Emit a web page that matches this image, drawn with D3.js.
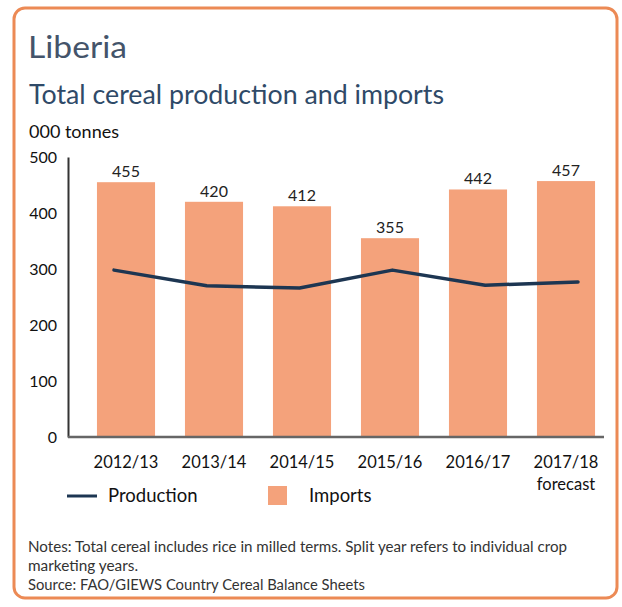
<!DOCTYPE html>
<html><head><meta charset="utf-8">
<script src="https://cdn.jsdelivr.net/npm/d3@7"></script>
<style>body{margin:0;background:#fff}svg{display:block;font-family:Lato,"Open Sans",sans-serif}</style>
</head><body><svg id="c" width="622" height="607"></svg>
<script>
const categories = ["2012/13","2013/14","2014/15","2015/16","2016/17","2017/18"];
const categorySub = ["","","","","","forecast"];
const imports = [455,420,412,355,442,457];
const production = [298,270,266,298,271,277];
const yTicks = [0,100,200,300,400,500];
const FONT = "Lato,'Open Sans',sans-serif";

const svg = d3.select("#c");
svg.append("rect").attr("x",14).attr("y",8).attr("width",603).attr("height",590)
  .attr("rx",11).attr("fill","#fff").attr("stroke","#ec8a55").attr("stroke-width",3);

function fitText(x, yy, size, color, txt, len) {
  const t = svg.append("text").attr("x",x).attr("y",yy).attr("font-size",size).attr("fill",color).text(txt);
  if (len) t.attr("textLength",len).attr("lengthAdjust","spacingAndGlyphs");
  return t;
}
fitText(28,58,31,"#44546a","Liberia",99);
fitText(29,104,26,"#2f4a68","Total cereal production and imports",415);
fitText(29,138,17,"#111","000 tonnes",90);

const y = d3.scaleLinear().domain([0,500]).range([437,157]);
const x = d3.scaleBand().domain(categories).range([82,610]).paddingInner(0.34).paddingOuter(0.17);
const xp = d3.scalePoint().domain(categories).range([82,610]).padding(0.345);

// bars
svg.append("g").selectAll("rect").data(categories).join("rect")
  .attr("x",d=>x(d)).attr("width",x.bandwidth())
  .attr("y",(d,i)=>y(imports[i])).attr("height",(d,i)=>y(0)-y(imports[i]))
  .attr("fill","#f4a27b");
svg.append("g").selectAll("text").data(categories).join("text")
  .attr("x",d=>x(d)+x.bandwidth()/2).attr("y",(d,i)=>y(imports[i])-5)
  .attr("text-anchor","middle").attr("font-size",16).attr("fill","#222")
  .text((d,i)=>imports[i]);

// y axis
const ya = svg.append("g").attr("transform","translate(68,0)")
  .call(d3.axisLeft(y).tickValues(yTicks).tickSize(0).tickPadding(11));
ya.select(".domain").attr("stroke","#333").attr("stroke-width",2);
ya.selectAll("text").attr("font-size",16).attr("fill","#111").attr("font-family",FONT);

// x axis
const xa = svg.append("g").attr("transform","translate(0,437)")
  .call(d3.axisBottom(x).tickSize(0).tickPadding(0).tickSizeOuter(0));
xa.select(".domain").attr("d","M68,0H604").attr("stroke","#666").attr("stroke-width",2.5);
xa.selectAll("text").remove();
xa.selectAll(".tick").append("text").attr("y",31).attr("text-anchor","middle")
  .attr("font-size",16.5).attr("fill","#111").attr("font-family",FONT)
  .text(d=>d);
xa.selectAll(".tick").append("text").attr("y",53).attr("text-anchor","middle")
  .attr("font-size",16.5).attr("fill","#111").attr("font-family",FONT)
  .text((d,i)=>categorySub[i]);

// production line
const line = d3.line().x((d,i)=>xp(categories[i])).y(d=>y(d)).curve(d3.curveLinear);
svg.append("path").datum(production).attr("d",line).attr("fill","none")
  .attr("stroke","#1d3652").attr("stroke-width",3.5).attr("stroke-linecap","round").attr("stroke-linejoin","round");

// legend
svg.append("line").attr("x1",67).attr("x2",97).attr("y1",496).attr("y2",496)
  .attr("stroke","#1d3652").attr("stroke-width",3);
svg.append("text").attr("x",108).attr("y",502).attr("font-size",18.5).attr("fill","#111").text("Production");
svg.append("rect").attr("x",268).attr("y",486).attr("width",19).attr("height",19).attr("fill","#f4a27b");
svg.append("text").attr("x",309).attr("y",502).attr("font-size",18.5).attr("fill","#111").text("Imports");

// notes
const notes = ["Notes: Total cereal includes rice in milled terms. Split year refers to individual crop",
  "marketing years.","Source: FAO/GIEWS Country Cereal Balance Sheets"];
const noteLens = [539,110,337];
svg.append("g").selectAll("text").data(notes).join("text")
  .attr("x",28).attr("y",(d,i)=>552+i*19).attr("font-size",14.5).attr("fill","#333")
  .attr("textLength",(d,i)=>noteLens[i]).attr("lengthAdjust","spacingAndGlyphs")
  .text(d=>d);
</script></body></html>
